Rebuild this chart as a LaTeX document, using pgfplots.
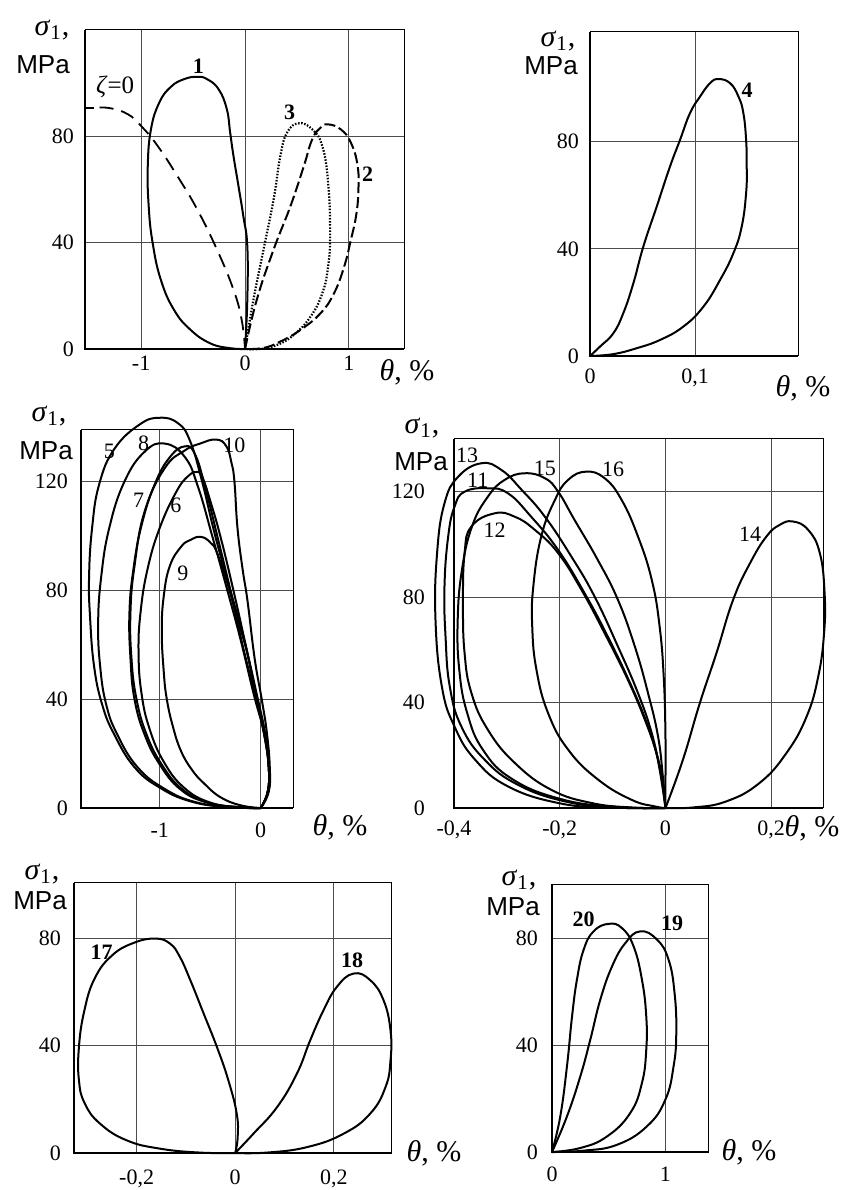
\documentclass[border=0pt]{standalone}
\usepackage{fontspec}
\setmainfont{Liberation Serif}
\setsansfont{Liberation Sans}
\usepackage{pgfplots}
\pgfplotsset{compat=1.18}

\newcommand\sigmalab{\fontsize{15}{15}\selectfont\textit{σ}\textsubscript{1},}
\newcommand\mpalab{\fontsize{13}{14}\selectfont\sffamily MPa}
\newcommand\thetalab{\fontsize{15}{15}\selectfont\textit{θ}, \%}

\pgfplotsset{
  panel/.style={
    scale only axis, clip=false, anchor=south west,
    axis line style={line width=0.5pt},
    grid=major, grid style={line width=0.45pt, black!70},
    major tick length=0pt,
    tick label style={font=\fontsize{11}{12}\selectfont},
    yticklabel style={xshift=-2pt},
  },
  curve/.style={smooth, tension=0.75, line width=1pt, black, mark=none},
}

% heavier left and bottom axis lines
\newcommand\frameaxes{\draw[line width=1.3pt] (rel axis cs:0,1) -- (rel axis cs:0,0) -- (rel axis cs:1,0);}
% axis titles: stress at the top left, strain at the bottom right
\newcommand\ylab[4]{%
  \node[inner sep=0pt] at ([xshift=#1,yshift=#2]rel axis cs:0,1) {\sigmalab};
  \node[inner sep=0pt] at ([xshift=#3,yshift=#4]rel axis cs:0,1) {\mpalab};}
\newcommand\xlab[2]{\node[inner sep=0pt] at ([xshift=#1,yshift=#2]rel axis cs:1,0) {\thetalab};}
\newcommand\bnum{\bfseries\fontsize{11}{12}\selectfont}
\newcommand\rnum{\fontsize{11}{12}\selectfont}

\begin{document}
\begin{tikzpicture}
\useasboundingbox (0,0) rectangle (421.5pt,595pt);

% ---------------- loops 1-3 and the zeta = 0 line
\begin{axis}[panel, at={(42.5pt,420.5pt)}, width=159.5pt, height=159.5pt,
  xmin=-1.54, xmax=1.53, ymin=0, ymax=120,
  xtick={-1,0,1}, xticklabels={-1,0,1}, ytick={0,40,80}, yticklabels={0,40,80}]
\addplot[curve] coordinates {(0,0) (0.022,18.5) (0.022,38.6) (-0.016,49.9) (-0.063,61.3) (-0.111,72.6) (-0.143,81.4) (-0.175,90.2) (-0.254,97.7) (-0.365,101.5) (-0.46,102.4) (-0.587,101.5) (-0.714,98.6) (-0.825,92.7) (-0.905,82.7) (-0.936,68.8) (-0.927,53.7) (-0.889,39.9) (-0.81,26) (-0.683,14.7) (-0.524,7.2) (-0.333,2.1) (-0.143,0.3) (0,0)};
\addplot[curve, line width=0.9pt] coordinates {(-1.54,90.8) (-1.45,90.8)};
\addplot[curve, line width=0.9pt, dash pattern=on 7pt off 4pt] coordinates {(-1.4,90.8) (-1.286,90.5) (-1.127,88.3) (-1.0,83.9) (-0.841,76.4) (-0.65,65) (-0.46,52.5) (-0.27,37.4) (-0.111,22.3) (-0.032,10.9) (0,0)};
\addplot[curve, dash pattern=on 5.5pt off 2pt] coordinates {(0,0) (0.113,18.5) (0.275,37.4) (0.437,53.7) (0.566,68.8) (0.647,78.9) (0.728,83.3) (0.8,84.5) (0.922,82.6) (1.019,77.6) (1.084,68.8) (1.09,58.8) (1.068,49.9) (1.019,41.1) (0.955,31.1) (0.857,21) (0.728,13.5) (0.534,7.2) (0.34,2.8) (0.178,0.4) (0,0)};
\addplot[curve, line width=1.1pt, dash pattern=on 0.75pt off 0.8pt] coordinates {(0,0) (0.081,18.5) (0.178,37.4) (0.275,56.2) (0.34,72.6) (0.405,81.4) (0.518,84.9) (0.647,82.6) (0.744,76.3) (0.8,62.5) (0.819,43.7) (0.8,31.1) (0.744,21) (0.631,12.2) (0.469,5.3) (0.307,1.5) (0.146,0) (0,0)};
\node at (axis cs:-0.45,106.4) {\bnum 1};
\node at (axis cs:1.18,65.7) {\bnum 2};
\node at (axis cs:0.43,89) {\bnum 3};
\node at (axis cs:-1.25,98.5) {\fontsize{12.5}{13}\selectfont\textit{ζ}=0};
\frameaxes
\ylab{-16.5pt}{0pt}{-21pt}{-17.5pt}
\xlab{1.5pt}{-11.5pt}
\end{axis}

% ---------------- loop 4
\begin{axis}[panel, at={(295pt,417pt)}, width=104pt, height=162pt,
  xmin=0, xmax=0.198, ymin=0, ymax=121,
  xtick={0,0.1}, xticklabels={0,{0,1}}, ytick={0,40,80}, yticklabels={0,40,80},
  xticklabel style={yshift=-3pt}]
\addplot[curve] coordinates {(0,0) (0.0095,3.5) (0.0222,8.5) (0.0317,16) (0.0413,27.2) (0.0508,40.9) (0.0635,55.8) (0.0762,70.8) (0.0857,80.7) (0.0952,90.7) (0.1048,96.9) (0.1143,101.9) (0.1222,103.4) (0.1333,101.9) (0.1413,96.9) (0.146,90.7) (0.1486,80.7) (0.1492,70.8) (0.1486,60.8) (0.1444,48.3) (0.1365,38.4) (0.1238,28.4) (0.1079,18.4) (0.0889,11) (0.0667,6) (0.0444,2.9) (0.0222,0.7) (0,0)};
\node at (axis cs:0.1495,99.4) {\bnum 4};
\frameaxes
\ylab{-16pt}{-4.5pt}{-19.5pt}{-17pt}
\xlab{2.5pt}{-16pt}
\end{axis}

% ---------------- loops 5-10
\begin{axis}[panel, at={(40.5pt,191pt)}, width=106pt, height=189pt,
  xmin=-1.78, xmax=0.32, ymin=0, ymax=139,
  xtick={-1,0}, xticklabels={-1,0}, ytick={0,40,80,120}, yticklabels={0,40,80,120},
  xticklabel style={yshift=-4pt}, yticklabel style={xshift=-1pt}]
\addplot[curve] coordinates {(0,0) (0.07,6) (0.08,15) (0.04,28) (-0.05,42) (-0.15,60) (-0.3,80) (-0.45,100) (-0.58,120) (-0.7,135) (-0.82,141.5) (-1.0,143.5) (-1.2,141) (-1.45,132) (-1.6,119) (-1.67,103) (-1.7,85) (-1.69,70) (-1.65,52) (-1.57,38) (-1.45,27) (-1.25,15) (-1.0,7.5) (-0.7,2.5) (-0.35,0.4) (0,0)};
\addplot[curve] coordinates {(0,0) (0.07,6) (0.08,15) (0.03,28) (-0.07,42) (-0.2,62) (-0.33,80) (-0.48,100) (-0.62,118) (-0.75,129) (-0.95,134) (-1.15,131) (-1.35,120) (-1.5,103) (-1.58,85) (-1.61,68) (-1.59,52) (-1.53,38) (-1.42,27) (-1.22,15) (-0.95,7) (-0.65,2.2) (-0.3,0.3) (0,0)};
\addplot[curve] coordinates {(0,0) (0.07,6) (0.08,15) (0.03,28) (-0.06,42) (-0.18,60) (-0.3,80) (-0.43,100) (-0.55,118) (-0.65,130) (-0.75,133) (-0.9,129) (-1.05,119) (-1.18,104) (-1.26,88) (-1.3,72) (-1.29,55) (-1.25,40) (-1.15,27) (-1.0,16) (-0.8,7) (-0.55,2.2) (-0.25,0.3) (0,0)};
\addplot[curve] coordinates {(0,0) (0.08,6) (0.09,15) (0.06,28) (0.01,40) (-0.06,55) (-0.13,76) (-0.18,88) (-0.23,103) (-0.26,120) (-0.29,127) (-0.34,133) (-0.44,135.5) (-0.6,134) (-0.75,131.5) (-0.95,125) (-1.15,109) (-1.25,89) (-1.29,72) (-1.28,55) (-1.23,40) (-1.13,27) (-0.98,16) (-0.78,7) (-0.52,2) (-0.22,0.3) (0,0)};
\addplot[curve] coordinates {(0,0) (0.07,6) (0.08,15) (0.03,28) (-0.05,42) (-0.15,60) (-0.27,80) (-0.4,100) (-0.5,113) (-0.57,121) (-0.62,123.6) (-0.72,122) (-0.84,116) (-1.0,103) (-1.12,88) (-1.19,72) (-1.21,57) (-1.18,42) (-1.1,29) (-0.96,17) (-0.76,7.5) (-0.5,2) (-0.2,0.3) (0,0)};
\addplot[curve] coordinates {(0,0) (0.07,6) (0.08,15) (0.04,28) (-0.04,42) (-0.14,58) (-0.25,72) (-0.33,82.6) (-0.43,93.6) (-0.49,97.3) (-0.59,99.7) (-0.7,98.5) (-0.79,96) (-0.9,89) (-0.96,78) (-0.98,65) (-0.96,50) (-0.93,40) (-0.87,30) (-0.79,21) (-0.68,14) (-0.56,9) (-0.4,4) (-0.2,1) (0,0)};
\node at (axis cs:-1.5,131) {\rnum 5};
\node at (axis cs:-1.16,134) {\rnum 8};
\node at (axis cs:-0.26,133.4) {\rnum 10};
\node at (axis cs:-1.21,113.2) {\rnum 7};
\node at (axis cs:-0.84,111.4) {\rnum 6};
\node at (axis cs:-0.77,86.3) {\rnum 9};
\frameaxes
\ylab{-16pt}{7pt}{-17.5pt}{-10.5pt}
\xlab{23.5pt}{-9.5pt}
\end{axis}

% ---------------- loops 11-16
\begin{axis}[panel, at={(227pt,191pt)}, width=184.5pt, height=184.5pt,
  xmin=-0.4, xmax=0.298, ymin=0, ymax=140,
  xtick={-0.4,-0.2,0,0.2}, xticklabels={{-0,4},{-0,2},0,{0,2}},
  ytick={0,40,80,120}, yticklabels={0,40,80,120},
  xticklabel style={yshift=-3pt}, yticklabel style={xshift=-9pt}]
\addplot[curve] coordinates {(0,0) (-0.011,14.5) (-0.026,28.4) (-0.052,43.6) (-0.09,61.3) (-0.134,80.2) (-0.178,95.4) (-0.228,110.5) (-0.272,120.7) (-0.31,128.2) (-0.348,130.8) (-0.392,125.7) (-0.418,115.6) (-0.432,96.7) (-0.435,71.4) (-0.423,46.1) (-0.399,30.9) (-0.36,18.3) (-0.298,8.2) (-0.203,1.9) (-0.109,0.2) (0,0)};
\addplot[curve] coordinates {(0,0) (-0.005,12) (-0.014,27.1) (-0.033,43.6) (-0.058,61.3) (-0.09,79) (-0.128,94.1) (-0.172,109.3) (-0.203,120) (-0.228,125.1) (-0.266,127) (-0.304,124.5) (-0.336,118.1) (-0.366,106.8) (-0.385,90.3) (-0.393,71.4) (-0.39,52.4) (-0.375,36) (-0.345,22) (-0.29,11) (-0.2,3.5) (-0.1,0.5) (0,0)};
\addplot[curve] coordinates {(0,0) (-0.005,8.2) (-0.014,18.3) (-0.033,30.9) (-0.064,46.1) (-0.109,65) (-0.153,81.5) (-0.203,97.9) (-0.254,110.5) (-0.298,119.4) (-0.336,121.3) (-0.38,120) (-0.399,114.3) (-0.411,103) (-0.418,84) (-0.416,65) (-0.408,46.1) (-0.386,30.9) (-0.342,18.3) (-0.279,8.8) (-0.19,2.5) (-0.096,0.2) (0,0)};
\addplot[curve] coordinates {(0,0) (-0.006,10.7) (-0.017,20.8) (-0.039,33.5) (-0.071,48.6) (-0.115,66.3) (-0.159,82.8) (-0.203,96.7) (-0.247,105.5) (-0.285,110.5) (-0.323,111.8) (-0.367,106.8) (-0.38,96.7) (-0.383,77.7) (-0.38,58.8) (-0.367,43.6) (-0.336,29.7) (-0.285,17.1) (-0.216,6.9) (-0.14,1.9) (-0.064,0.2) (0,0)};
\addplot[curve] coordinates {(0,0) (0,9.3) (0,27.1) (-0.003,48.6) (-0.011,68.8) (-0.026,86.6) (-0.052,103) (-0.083,116.9) (-0.115,125.1) (-0.15,127.6) (-0.184,124.5) (-0.209,116.9) (-0.235,103) (-0.25,84) (-0.252,68.8) (-0.244,52.4) (-0.222,36) (-0.184,22.1) (-0.127,10.7) (-0.064,3.1) (-0.02,0.6) (0,0)};
\addplot[curve] coordinates {(0,0) (0.033,18.3) (0.065,39.8) (0.0965,58.8) (0.128,79) (0.16,92.9) (0.191,103) (0.216,107.4) (0.241,108.7) (0.27,105.5) (0.292,96.7) (0.301,81.5) (0.3,66.3) (0.289,49.9) (0.267,34.7) (0.229,20.9) (0.178,9.5) (0.115,2.5) (0.052,0.2) (0,0)};
\node at (axis cs:-0.375,133.7) {\rnum 13};
\node at (axis cs:-0.355,124.5) {\rnum 11};
\node at (axis cs:-0.228,128.9) {\rnum 15};
\node at (axis cs:-0.099,128.5) {\rnum 16};
\node at (axis cs:-0.323,105.5) {\rnum 12};
\node at (axis cs:0.16,104) {\rnum 14};
\frameaxes
\ylab{-16pt}{5.5pt}{-16.5pt}{-11.5pt}
\xlab{-5.5pt}{-10pt}
\end{axis}

% ---------------- loops 17 and 18
\begin{axis}[panel, at={(37pt,18.5pt)}, width=159pt, height=135pt,
  xmin=-0.327, xmax=0.318, ymin=0, ymax=100.5,
  xtick={-0.2,0,0.2}, xticklabels={{-0,2},0,{0,2}}, ytick={0,40,80}, yticklabels={0,40,80},
  xticklabel style={yshift=-5pt}, yticklabel style={xshift=-1pt}]
\addplot[curve] coordinates {(0,0) (0.005,6) (0.003,14.7) (-0.014,27.1) (-0.037,39.4) (-0.064,51.9) (-0.091,64.3) (-0.112,72.9) (-0.132,77.9) (-0.162,79.8) (-0.206,78.2) (-0.25,73.5) (-0.285,65) (-0.306,53) (-0.317,39.4) (-0.317,27.1) (-0.305,18.4) (-0.274,10.9) (-0.22,4.7) (-0.152,1.6) (-0.071,0.15) (0,0)};
\addplot[curve] coordinates {(0,0) (0.037,7.2) (0.085,17.1) (0.125,29.5) (0.152,41.9) (0.179,53.1) (0.206,61.8) (0.24,66.8) (0.274,64.3) (0.301,56.8) (0.315,45.6) (0.315,34.5) (0.305,24.6) (0.274,14.7) (0.22,7.2) (0.146,2.2) (0.064,0.15) (0,0)};
\node at (axis cs:-0.271,74.8) {\bnum 17};
\node at (axis cs:0.237,71.7) {\bnum 18};
\frameaxes
\ylab{-16pt}{4.5pt}{-17pt}{-9pt}
\xlab{21pt}{0pt}
\end{axis}

% ---------------- loops 19 and 20
\begin{axis}[panel, at={(276pt,19pt)}, width=78pt, height=134pt,
  xmin=0, xmax=1.377, ymin=0, ymax=100.2,
  xtick={0,1}, xticklabels={0,1}, ytick={0,40,80}, yticklabels={0,40,80},
  xticklabel style={yshift=-4pt}, yticklabel style={xshift=-1.5pt}]
\addplot[curve] coordinates {(0,0) (0.073,13.3) (0.132,32) (0.177,50.7) (0.22,64.4) (0.279,75.6) (0.367,82.5) (0.5,85.3) (0.618,83.7) (0.72,76.9) (0.794,64.4) (0.832,50.7) (0.832,38.2) (0.794,25.8) (0.691,14.6) (0.485,5.8) (0.25,1.5) (0,0)};
\addplot[curve] coordinates {(0,0) (0.132,13.3) (0.25,28.3) (0.338,42) (0.426,56.9) (0.53,69.4) (0.647,78.1) (0.779,82.5) (0.927,79.4) (1.029,71.9) (1.082,59.4) (1.097,44.5) (1.073,32) (1.0,19.5) (0.838,9.6) (0.574,2.7) (0.279,0.5) (0,0)};
\node at (axis cs:0.279,86.9) {\bnum 20};
\node at (axis cs:1.06,85.6) {\bnum 19};
\frameaxes
\ylab{-16.5pt}{2pt}{-19.5pt}{-11.5pt}
\xlab{20.5pt}{0pt}
\end{axis}
\end{tikzpicture}
\end{document}
